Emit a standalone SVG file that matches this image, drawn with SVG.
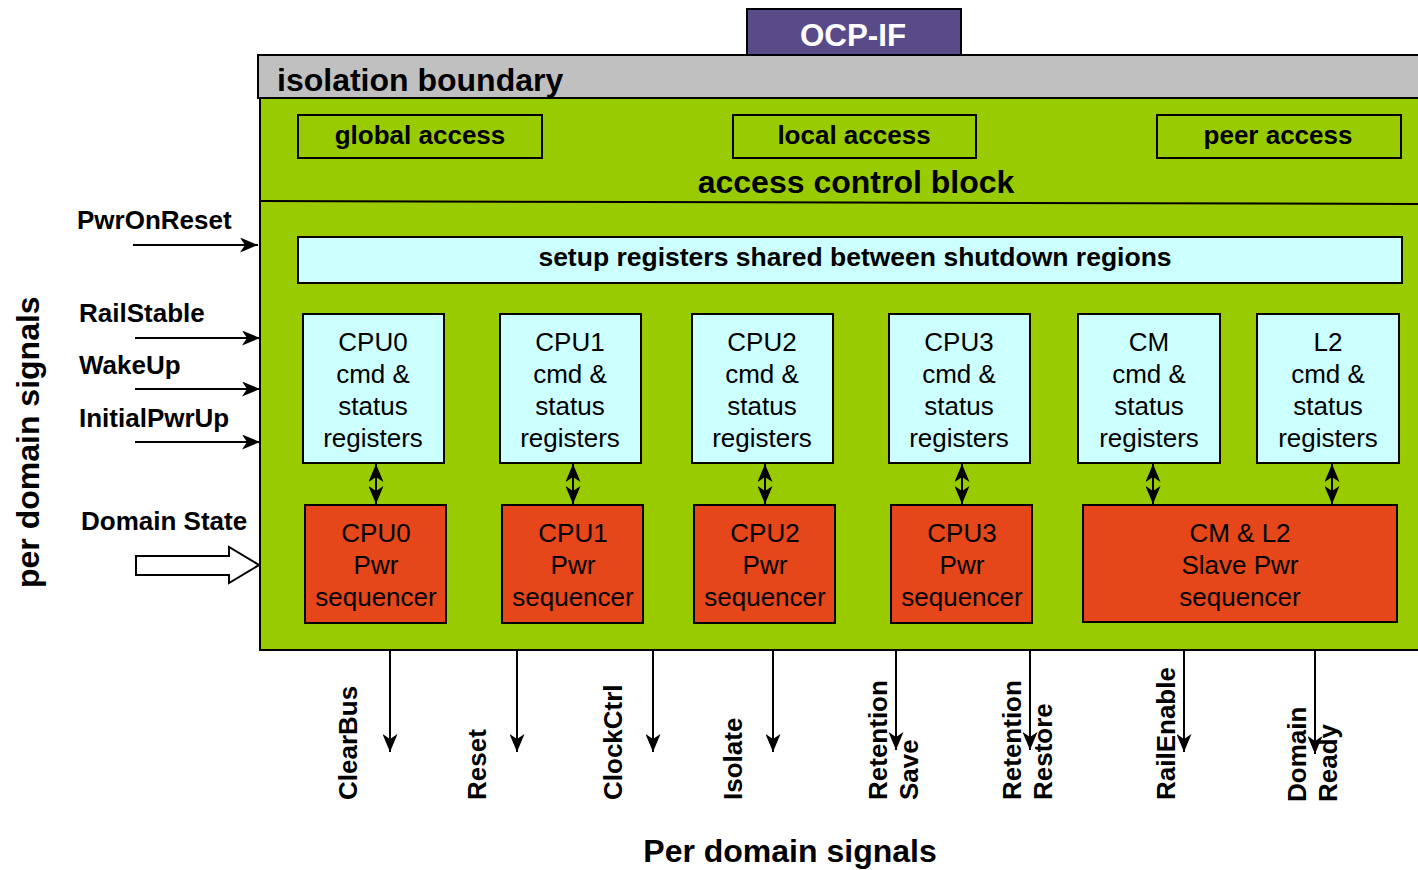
<svg xmlns="http://www.w3.org/2000/svg" width="1418" height="870" viewBox="0 0 1418 870">
<style>
  .b { font-family: "Liberation Sans", Arial, sans-serif; font-weight: bold; fill: #000; }
  .r { font-family: "Liberation Sans", Arial, sans-serif; fill: #000; font-size: 26px; text-anchor: middle; }
  .s26 { font-size: 26px; }
  .s32 { font-size: 32px; }
  .reg { fill: #ccffff; stroke: #000; stroke-width: 2; }
  .seq { fill: #e5461a; stroke: #000; stroke-width: 2; }
  .acc { fill: none; stroke: #000; stroke-width: 2; }
  .wire { stroke: #000; stroke-width: 2; fill: none; }
</style>
<defs>
  <marker id="ah" viewBox="0 0 18 15" refX="18" refY="7.5" markerWidth="18" markerHeight="15" markerUnits="userSpaceOnUse" orient="auto-start-reverse">
    <path d="M0,0 L18,7.5 L0,15 L5,7.5 Z" fill="#000"/>
  </marker>
</defs>
<rect width="1418" height="870" fill="#fff"/>

<g id="ocp-if">
  <rect x="747" y="9" width="214" height="46" fill="#594a89" stroke="#000" stroke-width="2"/>
  <text class="b" x="853" y="46" font-size="32" style="fill:#fff" text-anchor="middle" textLength="106" lengthAdjust="spacingAndGlyphs">OCP-IF</text>
</g>

<g id="isolation-boundary">
  <rect x="258" y="55" width="1170" height="43" fill="#c0c0c0" stroke="#000" stroke-width="2"/>
  <text class="b s32" x="277" y="91">isolation boundary</text>
</g>

<g id="domain-block">
  <rect x="260" y="98" width="1170" height="552" fill="#99cc00" stroke="#000" stroke-width="2"/>
</g>

<g id="access-control-block">
  <line x1="260" y1="201" x2="1418" y2="204" stroke="#000" stroke-width="2"/>
  <text class="b s32" x="856" y="193" text-anchor="middle">access control block</text>
</g>

<g id="global-access">
  <rect class="acc" x="298" y="115" width="244" height="43"/>
  <text class="b s26" x="420" y="144" text-anchor="middle">global access</text>
</g>
<g id="local-access">
  <rect class="acc" x="733" y="115" width="243" height="43"/>
  <text class="b s26" x="854" y="144" text-anchor="middle">local access</text>
</g>
<g id="peer-access">
  <rect class="acc" x="1157" y="115" width="244" height="43"/>
  <text class="b s26" x="1278" y="144" text-anchor="middle">peer access</text>
</g>

<g id="setup-registers">
  <rect class="reg" x="298" y="237" width="1104" height="46"/>
  <text class="b" font-size="26.5" x="855" y="266" text-anchor="middle">setup registers shared between shutdown regions</text>
</g>

<g id="cpu0-regs">
  <rect class="reg" x="303" y="314" width="141" height="149"/>
  <text class="r" x="373" y="351">CPU0</text><text class="r" x="373" y="383">cmd &amp;</text><text class="r" x="373" y="415">status</text><text class="r" x="373" y="447">registers</text>
</g>
<g id="cpu1-regs">
  <rect class="reg" x="500" y="314" width="141" height="149"/>
  <text class="r" x="570" y="351">CPU1</text><text class="r" x="570" y="383">cmd &amp;</text><text class="r" x="570" y="415">status</text><text class="r" x="570" y="447">registers</text>
</g>
<g id="cpu2-regs">
  <rect class="reg" x="692" y="314" width="141" height="149"/>
  <text class="r" x="762" y="351">CPU2</text><text class="r" x="762" y="383">cmd &amp;</text><text class="r" x="762" y="415">status</text><text class="r" x="762" y="447">registers</text>
</g>
<g id="cpu3-regs">
  <rect class="reg" x="889" y="314" width="141" height="149"/>
  <text class="r" x="959" y="351">CPU3</text><text class="r" x="959" y="383">cmd &amp;</text><text class="r" x="959" y="415">status</text><text class="r" x="959" y="447">registers</text>
</g>
<g id="cm-regs">
  <rect class="reg" x="1078" y="314" width="142" height="149"/>
  <text class="r" x="1149" y="351">CM</text><text class="r" x="1149" y="383">cmd &amp;</text><text class="r" x="1149" y="415">status</text><text class="r" x="1149" y="447">registers</text>
</g>
<g id="l2-regs">
  <rect class="reg" x="1257" y="314" width="142" height="149"/>
  <text class="r" x="1328" y="351">L2</text><text class="r" x="1328" y="383">cmd &amp;</text><text class="r" x="1328" y="415">status</text><text class="r" x="1328" y="447">registers</text>
</g>

<g id="cpu0-seq">
  <rect class="seq" x="305" y="505" width="141" height="118"/>
  <text class="r" x="376" y="542">CPU0</text><text class="r" x="376" y="574">Pwr</text><text class="r" x="376" y="606">sequencer</text>
</g>
<g id="cpu1-seq">
  <rect class="seq" x="502" y="505" width="141" height="118"/>
  <text class="r" x="573" y="542">CPU1</text><text class="r" x="573" y="574">Pwr</text><text class="r" x="573" y="606">sequencer</text>
</g>
<g id="cpu2-seq">
  <rect class="seq" x="694" y="505" width="141" height="118"/>
  <text class="r" x="765" y="542">CPU2</text><text class="r" x="765" y="574">Pwr</text><text class="r" x="765" y="606">sequencer</text>
</g>
<g id="cpu3-seq">
  <rect class="seq" x="891" y="505" width="141" height="118"/>
  <text class="r" x="962" y="542">CPU3</text><text class="r" x="962" y="574">Pwr</text><text class="r" x="962" y="606">sequencer</text>
</g>
<g id="cml2-seq">
  <rect class="seq" x="1083" y="505" width="314" height="117"/>
  <text class="r" x="1240" y="542">CM &amp; L2</text><text class="r" x="1240" y="574">Slave Pwr</text><text class="r" x="1240" y="606">sequencer</text>
</g>

<g id="inputs">
  <text class="b s26" x="77" y="229">PwrOnReset</text>
  <text class="b s26" x="79" y="322">RailStable</text>
  <text class="b s26" x="79" y="374">WakeUp</text>
  <text class="b s26" x="79" y="427">InitialPwrUp</text>
  <text class="b s26" x="81" y="530">Domain State</text>
  <text class="b s32" transform="translate(39,588) rotate(-90)">per domain signals</text>
</g>

<g id="outputs">
  <text class="b s26" transform="translate(357,800) rotate(-90)">ClearBus</text>
  <text class="b s26" transform="translate(486,800) rotate(-90)">Reset</text>
  <text class="b s26" transform="translate(622,800) rotate(-90)">ClockCtrl</text>
  <text class="b s26" transform="translate(742,800) rotate(-90)">Isolate</text>
  <text class="b s26" transform="translate(887,800) rotate(-90)">Retention</text>
  <text class="b s26" transform="translate(918,800) rotate(-90)">Save</text>
  <text class="b s26" transform="translate(1021,800) rotate(-90)">Retention</text>
  <text class="b s26" transform="translate(1052,800) rotate(-90)">Restore</text>
  <text class="b s26" transform="translate(1175,800) rotate(-90)">RailEnable</text>
  <text class="b s26" transform="translate(1306,802) rotate(-90)">Domain</text>
  <text class="b s26" transform="translate(1337,802) rotate(-90)">Ready</text>
  <text class="b s32" x="790" y="862" text-anchor="middle">Per domain signals</text>
</g>

<g id="connectors">
  <line class="wire" x1="133" y1="245" x2="258" y2="245" marker-end="url(#ah)"/>
  <line class="wire" x1="135" y1="338" x2="260" y2="338" marker-end="url(#ah)"/>
  <line class="wire" x1="135" y1="389" x2="260" y2="389" marker-end="url(#ah)"/>
  <line class="wire" x1="135" y1="442" x2="260" y2="442" marker-end="url(#ah)"/>
  <polygon points="136,556 229,556 229,547 259,565 229,583 229,575 136,575" fill="#fff" stroke="#000" stroke-width="2"/>

  <line class="wire" x1="376" y1="464" x2="376" y2="504" marker-start="url(#ah)" marker-end="url(#ah)"/>
  <line class="wire" x1="573" y1="464" x2="573" y2="504" marker-start="url(#ah)" marker-end="url(#ah)"/>
  <line class="wire" x1="765" y1="464" x2="765" y2="504" marker-start="url(#ah)" marker-end="url(#ah)"/>
  <line class="wire" x1="962" y1="464" x2="962" y2="504" marker-start="url(#ah)" marker-end="url(#ah)"/>
  <line class="wire" x1="1153" y1="464" x2="1153" y2="504" marker-start="url(#ah)" marker-end="url(#ah)"/>
  <line class="wire" x1="1332" y1="464" x2="1332" y2="504" marker-start="url(#ah)" marker-end="url(#ah)"/>

  <line class="wire" x1="390" y1="651" x2="390" y2="752" marker-end="url(#ah)"/>
  <line class="wire" x1="517" y1="651" x2="517" y2="752" marker-end="url(#ah)"/>
  <line class="wire" x1="653" y1="651" x2="653" y2="752" marker-end="url(#ah)"/>
  <line class="wire" x1="773" y1="651" x2="773" y2="752" marker-end="url(#ah)"/>
  <line class="wire" x1="896" y1="651" x2="896" y2="750" marker-end="url(#ah)"/>
  <line class="wire" x1="1030" y1="651" x2="1030" y2="750" marker-end="url(#ah)"/>
  <line class="wire" x1="1184" y1="651" x2="1184" y2="752" marker-end="url(#ah)"/>
  <line class="wire" x1="1315" y1="651" x2="1315" y2="754" marker-end="url(#ah)"/>
</g>
</svg>
